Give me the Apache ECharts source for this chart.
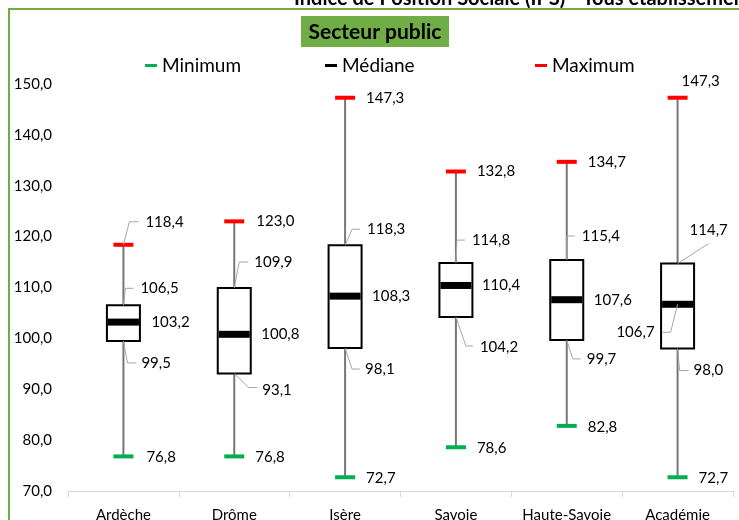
<!DOCTYPE html>
<html>
<head>
<meta charset="utf-8">
<title>Secteur public</title>
<script src="https://cdn.jsdelivr.net/npm/echarts@6/dist/echarts.min.js"></script>
<style>
  html, body { margin: 0; padding: 0; background: #fff; }
  #chart { width: 739px; height: 520px; }
</style>
</head>
<body>
<div id="chart"></div>
<script>
// Indice de position sociale, secteur public : résumé par département
const categories = ['Ardèche', 'Drôme', 'Isère', 'Savoie', 'Haute-Savoie', 'Académie'];
const minimum = [76.8, 76.8, 72.7, 78.6, 82.8, 72.7];
const quartile1 = [99.5, 93.1, 98.1, 104.2, 99.7, 98.0];
const mediane = [103.2, 100.8, 108.3, 110.4, 107.6, 106.7];
const quartile3 = [106.5, 109.9, 118.3, 114.8, 115.4, 114.7];
const maximum = [118.4, 123.0, 147.3, 132.8, 134.7, 147.3];
const yMin = 70, yMax = 150, yStep = 10;

// Placement of each value label (pixels, relative to its point) and optional leader line
// keys: dx, dy = label anchor; align; leader = bend points after the start point
const labelLayout = {
  min: [
    { dx: 23, dy: 1 }, { dx: 21, dy: 1 }, { dx: 21, dy: 1 },
    { dx: 21, dy: 1 }, { dx: 21, dy: 1 }, { dx: 21, dy: 1 }
  ],
  q1: [
    { dx: 18, dy: 22, leader: [[4, 22], [13, 22]] },
    { dx: 28, dy: 17, leader: [[14, 14], [23, 14]] },
    { dx: 20, dy: 21, leader: [[7, 21], [15, 21]] },
    { dx: 24, dy: 30, leader: [[10, 29], [17, 29]] },
    { dx: 20, dy: 19, leader: [[6, 19], [14, 19]] },
    { dx: 16, dy: 22, leader: [[2, 22], [11, 22]] }
  ],
  med: [
    { dx: 28, dy: 0 }, { dx: 27, dy: 0 }, { dx: 27, dy: 0 },
    { dx: 26, dy: 0 }, { dx: 27, dy: 0 },
    { dx: -23, dy: 28, align: 'right', leader: [[-7, 28], [-15, 28]] }
  ],
  q3: [
    { dx: 17, dy: -17, leader: [[2, -17], [10, -17]] },
    { dx: 20, dy: -26, leader: [[5, -26], [14, -26]] },
    { dx: 22, dy: -16, leader: [[7, -16], [15, -16]] },
    { dx: 16, dy: -23, leader: [[1, -23], [9, -23]] },
    { dx: 15, dy: -24, leader: [[0, -24], [8, -24]] },
    { dx: 12, dy: -33, leader: [[31, -20]] }
  ],
  max: [
    { dx: 22, dy: -23, leader: [[6, -23], [15, -23]] },
    { dx: 22, dy: 0 }, { dx: 21, dy: 0 }, { dx: 21, dy: 0 }, { dx: 21, dy: 0 },
    { dx: 4, dy: -17 }
  ]
};

const FONT = 'Lato';
const fmt = v => v.toFixed(1).replace('.', ',');

const boxData = categories.map((c, i) => [i, minimum[i], quartile1[i], quartile3[i], maximum[i]]);

// one entry per value label: [category index, value], with its layout looked up alongside
const labelData = [];
const labelMeta = [];
[['min', minimum], ['q1', quartile1], ['med', mediane], ['q3', quartile3], ['max', maximum]].forEach(([key, arr]) => {
  arr.forEach((v, i) => {
    labelData.push([i, v]);
    labelMeta.push(labelLayout[key][i]);
  });
});

const chart = echarts.init(document.getElementById('chart'), null, { renderer: 'canvas' });

chart.setOption({
  animation: false,
  backgroundColor: '#fff',
  textStyle: { fontFamily: FONT },
  graphic: [
    {
      type: 'rect', silent: true, z: 0,
      shape: { x: 9, y: 9, width: 800, height: 600 },
      style: { fill: null, stroke: '#70AD47', lineWidth: 2 }
    },
    {
      type: 'text', silent: true,
      x: 294, y: 9,
      style: {
        text: 'Indice de Position Sociale (IPS) - Tous établissements',
        fontFamily: FONT, fontSize: 20, fontWeight: 'bold', fill: '#000',
        verticalAlign: 'bottom'
      }
    },
    {
      type: 'group', x: 301, y: 16,
      children: [
        { type: 'rect', shape: { x: 0, y: 0, width: 148, height: 31 }, style: { fill: '#70AD47' } },
        {
          type: 'text', x: 74, y: 16,
          style: {
            text: 'Secteur public', fontFamily: FONT, fontSize: 21, fontWeight: 'bold',
            fill: '#000', align: 'center', verticalAlign: 'middle'
          }
        }
      ]
    }
  ],
  legend: [
    { data: ['Minimum'], left: 145 },
    { data: ['Médiane'], left: 325 },
    { data: ['Maximum'], left: 535 }
  ].map(l => Object.assign({
    top: 56, padding: 0, icon: 'rect', itemWidth: 12, itemHeight: 3,
    textStyle: { fontFamily: FONT, fontSize: 19, color: '#000' },
    selectedMode: false
  }, l)),
  grid: { left: 68, right: 6, top: 84, bottom: 29, outerBoundsMode: 'none', containLabel: false },
  xAxis: {
    type: 'category',
    data: categories,
    axisLine: { lineStyle: { color: '#d9d9d9', width: 1 } },
    axisTick: { show: true, length: 6, lineStyle: { color: '#d9d9d9' } },
    axisLabel: { fontFamily: FONT, fontSize: 15, color: '#000', margin: 17, interval: 0 },
    splitLine: { show: false }
  },
  yAxis: {
    type: 'value',
    min: yMin, max: yMax, interval: yStep,
    axisLine: { show: false },
    axisTick: { show: false },
    splitLine: { show: false },
    axisLabel: { fontFamily: FONT, fontSize: 15, color: '#000', margin: 16, formatter: fmt }
  },
  series: [
    {
      name: 'Boîtes',
      type: 'custom',
      z: 2,
      data: boxData,
      encode: { x: 0, y: [1, 2, 3, 4] },
      renderItem: function (params, api) {
        const i = api.value(0);
        const pMin = api.coord([i, api.value(1)]);
        const pQ1 = api.coord([i, api.value(2)]);
        const pQ3 = api.coord([i, api.value(3)]);
        const pMax = api.coord([i, api.value(4)]);
        const bw = 33;
        return {
          type: 'group',
          children: [
            {
              type: 'line',
              shape: { x1: pMax[0], y1: pMax[1], x2: pMin[0], y2: pMin[1] },
              style: { stroke: '#777777', lineWidth: 2 }
            },
            {
              type: 'rect',
              shape: { x: pQ3[0] - bw / 2, y: pQ3[1], width: bw, height: pQ1[1] - pQ3[1] },
              style: { fill: '#fff', stroke: '#000', lineWidth: 2 }
            }
          ]
        };
      }
    },
    {
      name: 'Minimum', type: 'scatter', z: 3,
      symbol: 'rect', symbolSize: [20, 4],
      itemStyle: { color: '#00B050', opacity: 1 },
      data: minimum.map((v, i) => [i, v])
    },
    {
      name: 'Médiane', type: 'scatter', z: 3,
      symbol: 'rect', symbolSize: [31, 7],
      itemStyle: { color: '#000', opacity: 1 },
      data: mediane.map((v, i) => [i, v])
    },
    {
      name: 'Maximum', type: 'scatter', z: 3,
      symbol: 'rect', symbolSize: [20, 4],
      itemStyle: { color: '#FF0000', opacity: 1 },
      data: maximum.map((v, i) => [i, v])
    },
    {
      name: 'Valeurs',
      type: 'custom',
      z: 4,
      data: labelData,
      encode: { x: 0, y: 1 },
      renderItem: function (params, api) {
        const p = api.coord([api.value(0), api.value(1)]);
        const m = labelMeta[params.dataIndex];
        const children = [];
        if (m.leader) {
          const pts = [[p[0], p[1]]].concat(m.leader.map(q => [p[0] + q[0], p[1] + q[1]]));
          children.push({
            type: 'polyline',
            shape: { points: pts },
            style: { stroke: '#a6a6a6', lineWidth: 1, fill: null }
          });
        }
        children.push({
          type: 'text',
          x: p[0] + m.dx, y: p[1] + m.dy,
          style: {
            text: fmt(api.value(1)),
            fontFamily: FONT, fontSize: 15, fill: '#000',
            align: m.align || 'left', verticalAlign: 'middle'
          }
        });
        return { type: 'group', children: children };
      }
    }
  ]
});
</script>
</body>
</html>
